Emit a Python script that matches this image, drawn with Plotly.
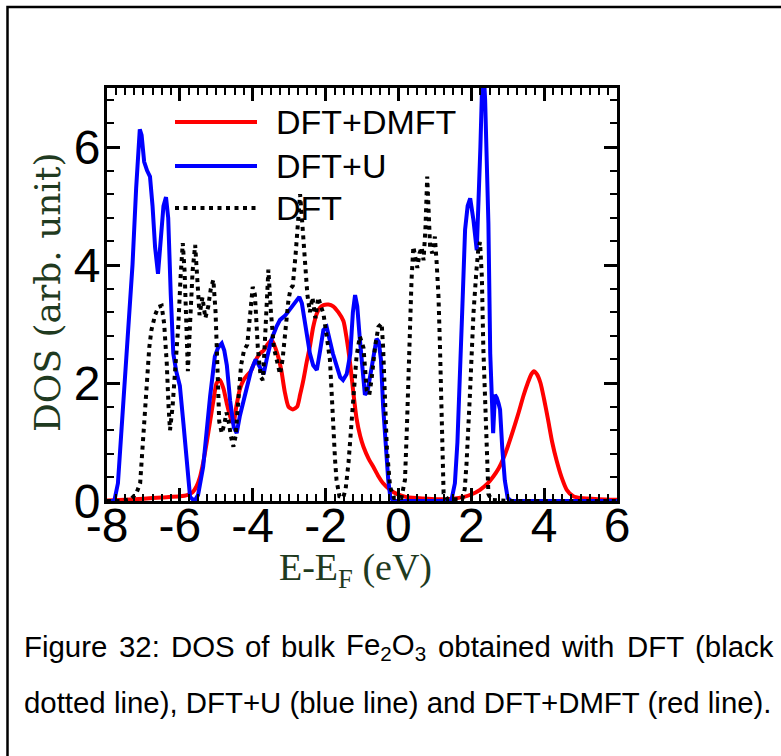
import plotly.graph_objects as go

# ---- DOS data (energy in eV relative to E_F, DOS in arb. units) ----
e_dmft = [-8.0, -7.5, -7.0, -6.5, -6.0, -5.8, -5.65, -5.54, -5.45, -5.36, -5.26, -5.17, -5.08,
          -4.99, -4.9, -4.8, -4.71, -4.6, -4.53, -4.45, -4.35, -4.25, -4.17, -4.05, -3.95, -3.8,
          -3.7, -3.6, -3.48, -3.38, -3.28, -3.21, -3.12, -3.02, -2.9, -2.78, -2.7, -2.61, -2.52,
          -2.43, -2.34, -2.24, -2.15, -2.06, -1.92, -1.79, -1.65, -1.51, -1.42, -1.32, -1.24,
          -1.15, -1.05, -0.96, -0.82, -0.69, -0.55, -0.42, -0.25, -0.05, 0.2, 0.5, 1.0, 1.5, 1.8,
          2.0, 2.24, 2.45, 2.6, 2.75, 2.88, 3.0, 3.15, 3.3, 3.43, 3.55, 3.65, 3.72, 3.8, 3.9, 4.0,
          4.11, 4.22, 4.34, 4.48, 4.62, 4.8, 5.0, 5.5, 6.0]
dos_dmft = [0.01, 0.02, 0.04, 0.06, 0.08, 0.1, 0.15, 0.25, 0.4, 0.65, 1.0, 1.35, 1.7,
            2.0, 2.05, 1.9, 1.65, 1.4, 1.32, 1.6, 1.9, 2.05, 2.12, 2.2, 2.35, 2.5,
            2.55, 2.65, 2.73, 2.6, 2.4, 2.2, 1.85, 1.6, 1.55, 1.6, 1.8, 2.05, 2.35,
            2.62, 2.95, 3.18, 3.28, 3.32, 3.33, 3.3, 3.2, 3.05, 2.75, 2.3, 1.85,
            1.4, 1.1, 0.92, 0.72, 0.58, 0.42, 0.3, 0.2, 0.12, 0.07, 0.05, 0.03, 0.04, 0.07,
            0.11, 0.19, 0.3, 0.41, 0.55, 0.72, 0.92, 1.2, 1.5, 1.78, 2.0, 2.15, 2.2, 2.15, 2.0, 1.72,
            1.37, 1.0, 0.69, 0.4, 0.19, 0.08, 0.05, 0.03, 0.02]

e_u = [-8.0, -7.8, -7.7, -7.55, -7.42, -7.3, -7.2, -7.1, -7.05, -6.98, -6.9, -6.82, -6.75,
       -6.68, -6.6, -6.52, -6.45, -6.38, -6.32, -6.25, -6.18, -6.1, -6.0, -5.9, -5.8, -5.72,
       -5.6, -5.5, -5.36, -5.25, -5.17, -5.04, -4.95, -4.85, -4.78, -4.71, -4.62, -4.52, -4.44,
       -4.35, -4.25, -4.15, -4.05, -3.92, -3.82, -3.7, -3.6, -3.48, -3.35, -3.25, -3.1, -2.98,
       -2.85, -2.72, -2.65, -2.58, -2.5, -2.43, -2.34, -2.24, -2.15, -2.06, -1.97, -1.88, -1.8,
       -1.7, -1.6, -1.52, -1.42, -1.32, -1.25, -1.19, -1.13, -1.06, -0.99, -0.92, -0.85, -0.78,
       -0.68, -0.6, -0.54, -0.48, -0.42, -0.35, -0.28, -0.22, -0.1, 1.45, 1.55, 1.62, 1.69,
       1.75, 1.83, 1.9, 1.97, 2.06, 2.15, 2.2, 2.25, 2.3, 2.34, 2.38, 2.42, 2.47, 2.52, 2.56,
       2.6, 2.65, 2.7, 2.75, 2.79, 2.85, 2.92, 3.0, 3.1, 6.0]
dos_u = [0.0, 0.0, 0.3, 1.6, 2.9, 4.0, 5.3, 6.3, 6.2, 5.75, 5.6, 5.5, 5.0,
         4.3, 3.85, 4.4, 5.0, 5.15, 4.8, 3.5, 2.5, 2.2, 1.95, 1.3, 0.5, 0.07,
         0.0, 0.1, 0.58, 1.3, 1.77, 2.45, 2.6, 2.67, 2.55, 2.3, 1.7, 1.25, 1.15,
         1.45, 1.72, 1.95, 2.2, 2.4, 2.3, 2.15, 2.45, 2.75, 2.95, 3.07, 3.15, 3.25,
         3.35, 3.46, 3.35, 3.1, 2.75, 2.5, 2.3, 2.22, 2.55, 2.9, 2.95, 2.7, 2.5,
         2.3, 2.1, 2.05, 2.15, 2.5, 3.2, 3.49, 3.3, 2.75, 2.2, 1.8, 1.85, 2.1,
         2.5, 2.75, 2.7, 2.4, 1.6, 0.9, 0.36, 0.05, 0.0, 0.0, 0.3, 1.0, 2.05,
         3.2, 4.6, 5.0, 5.13, 4.76, 4.25, 5.0, 6.0, 7.1, 7.3, 6.8, 6.0, 4.7, 2.5, 1.6,
         1.15, 1.8, 1.75, 1.65, 1.55, 0.9, 0.35, 0.05, 0.0, 0.0]

e_dft = [-8.0, -7.6, -7.35, -7.2, -7.09, -7.0, -6.91, -6.84, -6.78, -6.68, -6.59, -6.5, -6.43,
         -6.36, -6.31, -6.27, -6.2, -6.12, -6.04, -5.98, -5.92, -5.87, -5.82, -5.78, -5.72, -5.65,
         -5.58, -5.52, -5.46, -5.38, -5.3, -5.22, -5.15, -5.08, -5.02, -4.97, -4.92, -4.85, -4.78,
         -4.72, -4.66, -4.6, -4.53, -4.47, -4.4, -4.32, -4.24, -4.15, -4.08, -4.0, -3.94, -3.86,
         -3.78, -3.72, -3.65, -3.57, -3.5, -3.42, -3.34, -3.25, -3.18, -3.1, -3.02, -2.96, -2.9,
         -2.82, -2.75, -2.7, -2.65, -2.6, -2.55, -2.5, -2.43, -2.36, -2.28, -2.2, -2.13, -2.06,
         -1.97, -1.88, -1.83, -1.79, -1.74, -1.7, -1.62, -1.52, -1.45, -1.37, -1.3, -1.24, -1.15,
         -1.06, -0.96, -0.87, -0.8, -0.74, -0.64, -0.55, -0.46, -0.42, -0.37, -0.32, -0.23, -0.12,
         0.08, 0.18, 0.23, 0.27, 0.32, 0.36, 0.41, 0.46, 0.52, 0.58, 0.64, 0.69, 0.74, 0.79, 0.83,
         0.87, 0.93, 1.0, 1.05, 1.1, 1.14, 1.19, 1.24, 1.35, 1.75, 1.82, 1.87, 1.96, 2.06, 2.14,
         2.19, 2.24, 2.29, 2.33, 2.38, 2.42, 2.47, 2.55, 3.0, 6.0]
dos_dft = [0.0, 0.0, 0.03, 0.12, 0.3, 1.1, 2.05, 2.6, 2.9, 3.15, 3.29, 3.31, 3.0,
           2.34, 1.6, 1.2, 1.6, 2.3, 3.0, 3.8, 4.37, 3.9, 2.8, 2.2, 3.0, 3.9,
           4.34, 3.6, 3.15, 3.45, 3.1, 3.3, 3.6, 3.75, 3.2, 2.3, 1.35, 1.15, 1.3,
           1.5, 1.35, 1.1, 0.92, 1.1, 1.6, 2.3, 2.55, 2.65, 3.1, 3.63, 3.5, 2.6,
           2.1, 2.05, 2.9, 3.92, 3.2, 2.6, 2.39, 2.15, 2.4, 2.9, 3.4, 3.6, 3.65,
           4.2, 4.9, 5.2, 4.8, 4.3, 3.8, 3.5, 3.2, 3.45, 3.1, 3.45, 3.3, 3.18,
           2.8, 2.39, 1.8, 1.2, 0.7, 0.36, 0.08, 0.05, 0.2, 0.65, 1.2, 1.8, 2.45,
           2.79, 2.6, 1.88, 1.8, 2.05, 2.62, 2.95, 3.01, 2.6, 1.7, 0.92, 0.24, 0.05,
           0.05, 0.36, 1.2, 2.05, 3.18, 3.75, 4.31, 4.1, 3.95, 4.2, 4.3, 4.08, 4.6, 5.5, 4.9,
           4.3, 4.2, 4.48, 4.03, 3.46, 2.62, 1.2, 0.13, 0.03, 0.03, 0.2, 0.64, 1.77, 3.18, 3.9,
           4.25, 4.39, 3.8, 2.6, 1.5, 0.64, 0.12, 0.02, 0.0, 0.0]

series_names = ["DFT+DMFT", "DFT+U", "DFT"]
x_ticks = [-8, -6, -4, -2, 0, 2, 4, 6]
y_ticks = [0, 2, 4, 6]

caption_words = ["Figure", "32:", "DOS", "of", "bulk", "Fe<sub>2</sub>O<sub>3</sub>",
                 "obtained", "with", "DFT", "(black"]
caption_line2 = "dotted line), DFT+U (blue line) and DFT+DMFT (red line)."

# ---- page geometry (pixels) ----
W, H = 781, 756
L, R, T, B = 107, 617, 88, 501  # plot-area edges


def px(xp):
    return (xp - L) / (R - L)


def py(yp):
    return (B - yp) / (B - T)


RED, BLUE, BLACK = "#ff0000", "#0000ff", "#000000"
TITLE_COLOR = "#1f3a20"
SANS = "Liberation Sans, Arial, sans-serif"
DOT_DASH = "4px,4.5px"

fig = go.Figure()
fig.add_trace(go.Scatter(x=e_dmft, y=dos_dmft, mode="lines", name=series_names[0],
                         line=dict(color=RED, width=4, shape="spline", smoothing=0.6)))
fig.add_trace(go.Scatter(x=e_u, y=dos_u, mode="lines", name=series_names[1],
                         line=dict(color=BLUE, width=4)))
fig.add_trace(go.Scatter(x=e_dft, y=dos_dft, mode="lines", name=series_names[2],
                         line=dict(color=BLACK, width=4, dash=DOT_DASH)))

axis_common = dict(
    showgrid=False, zeroline=False, showline=True, linecolor="black", linewidth=3,
    mirror="allticks", ticks="inside", ticklen=13, tickwidth=2.5, tickcolor="black",
    tickfont=dict(family=SANS, size=48, color="black"),
)
fig.update_xaxes(range=[-8, 6], tickvals=x_ticks, ticktext=[str(v) for v in x_ticks],
                 ticklabelstandoff=-20,
                 minor=dict(dtick=0.25, tick0=-8, ticks="inside", ticklen=7, tickwidth=2,
                            tickcolor="black"),
                 **axis_common)
fig.update_yaxes(range=[0, 7], tickvals=y_ticks, ticktext=[str(v) for v in y_ticks],
                 ticklabelstandoff=-6,
                 minor=dict(dtick=0.4, tick0=0, ticks="inside", ticklen=7, tickwidth=2,
                            tickcolor="black"),
                 **axis_common)

shapes = []
annotations = []

# outer frame of the figure panel (left and top edges)
shapes.append(dict(type="path", xref="paper", yref="paper",
                   path=f"M {px(7.5)},{py(780)} L {px(7.5)},{py(7)} L {px(800)},{py(7)}",
                   line=dict(color="black", width=2.5)))

# legend drawn inside the axes
legend_rows = [(122, RED, None, 4), (166, BLUE, None, 4), (208, BLACK, DOT_DASH, 4)]
for (yrow, col, dash, lw), name in zip(legend_rows, series_names):
    ln = dict(color=col, width=lw)
    if dash:
        ln["dash"] = dash
    shapes.append(dict(type="line", xref="paper", yref="paper",
                       x0=px(175), x1=px(257), y0=py(yrow), y1=py(yrow), line=ln))
    annotations.append(dict(text=name, xref="paper", yref="paper", x=px(274), y=py(yrow),
                            xanchor="left", yanchor="middle", showarrow=False,
                            font=dict(family=SANS, size=34, color="black")))

# axis titles
annotations.append(dict(text="DOS (arb. unit)", xref="paper", yref="paper",
                        x=px(47), y=py(292), textangle=-90, showarrow=False,
                        xanchor="center", yanchor="middle",
                        font=dict(family="DejaVu Serif", size=36, color=TITLE_COLOR)))
annotations.append(dict(text="E-E<sub>F</sub> (eV)", xref="paper", yref="paper",
                        x=px(355), y=py(570), showarrow=False,
                        xanchor="center", yanchor="middle",
                        font=dict(family="Liberation Serif", size=38, color=TITLE_COLOR)))

# caption: first line justified word by word, second line left aligned
CAPTION_SIZE = 29.4
word_left = [22, 117, 169, 243, 279, 344, 436, 559, 625, 693]
for word, xl in zip(caption_words, word_left):
    annotations.append(dict(text=word, xref="paper", yref="paper", x=px(xl), y=py(646),
                            xanchor="left", yanchor="middle", showarrow=False,
                            font=dict(family=SANS, size=CAPTION_SIZE, color="black")))
annotations.append(dict(text=caption_line2, xref="paper", yref="paper", x=px(22), y=py(702),
                        xanchor="left", yanchor="middle", showarrow=False,
                        font=dict(family=SANS, size=CAPTION_SIZE, color="black")))

fig.update_layout(
    width=W, height=H,
    margin=dict(l=L, r=W - R, t=T, b=H - B),
    paper_bgcolor="white", plot_bgcolor="white",
    showlegend=False,
    shapes=shapes, annotations=annotations,
)

fig.write_html("out.html")
